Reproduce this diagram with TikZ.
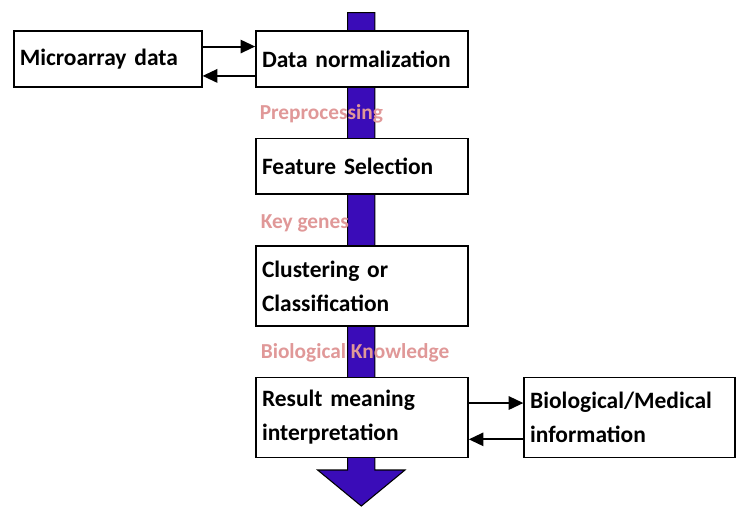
\documentclass[tikz,border=0pt]{standalone}
\usepackage{fontspec}
\setmainfont{Carlito}
\usetikzlibrary{calc}
\usetikzlibrary{arrows.meta}

\begin{document}
\begin{tikzpicture}[x=0.75pt, y=-0.75pt, line width=1.2pt,
    stage/.style={draw, fill=white, inner xsep=4.5pt, align=left,
      font=\fontsize{17.6}{25.5}\selectfont\bfseries},
    hint/.style={anchor=west, inner sep=0pt, text=cp,
      font=\fontsize{16}{19}\selectfont\bfseries},
    link/.style={-{Triangle[length=11pt, width=10pt]}, line width=1.5pt}]
    \definecolor{cf}{RGB}{58,12,184}\definecolor{cp}{RGB}{224,152,152}
    \useasboundingbox (0,0) rectangle (737,506);
    % the flow arrow behind the boxes
    \coordinate (top) at (361.3, 12.7);
    \coordinate (tip) at (361.3, 506);
    \fill[cf, draw=black, line width=0.8pt] ($(top)+(-13.6,0)$) -- ($(top)+(13.6,0)$)
      -- ($(tip)+(13.6,-36)$) -- ($(tip)+(43.7,-36)$) -- (tip)
      -- ($(tip)+(-43.7,-36)$) -- ($(tip)+(-13.6,-36)$) -- cycle;
    % boxes
    \node[stage, text width=132pt, minimum height=42pt] (micro) at (107.8, 59.2) {Microarray data};
    \node[stage, text width=150pt, minimum height=42pt] (norm)  at (362, 59.2) {Data normalization};
    \node[stage, text width=150pt, minimum height=41.5pt] (feat) at (362, 166.2) {Feature Selection};
    \node[stage, text width=150pt, minimum height=60pt] (clus) at (362, 285.9) {Clustering or\\Classification};
    \node[stage, text width=150pt, minimum height=60pt] (res)  at (362, 417.3) {Result meaning\\interpretation};
    \node[stage, text width=149pt, minimum height=60pt] (bio)  at (629.5, 417.3) {Biological/Medical\\information};
    % labels on the flow
    \node[hint] (pre) at (259, 114) {Preprocessing};
    \node[hint] (key) at (260, 223) {Key genes};
    \node[hint] (know) at (260, 353) {Biological Knowledge};
    % side arrows
    \draw[link] ($(micro.north east)!0.28!(micro.south east)$) -- ($(norm.north west)!0.28!(norm.south west)$);
    \draw[link] ($(norm.north west)!0.79!(norm.south west)$) -- ($(micro.north east)!0.79!(micro.south east)$);
    \draw[link] ($(res.north east)!0.325!(res.south east)$) -- ($(bio.north west)!0.325!(bio.south west)$);
    \draw[link] ($(bio.north west)!0.77!(bio.south west)$) -- ($(res.north east)!0.77!(res.south east)$);
  \end{tikzpicture}
\end{document}
